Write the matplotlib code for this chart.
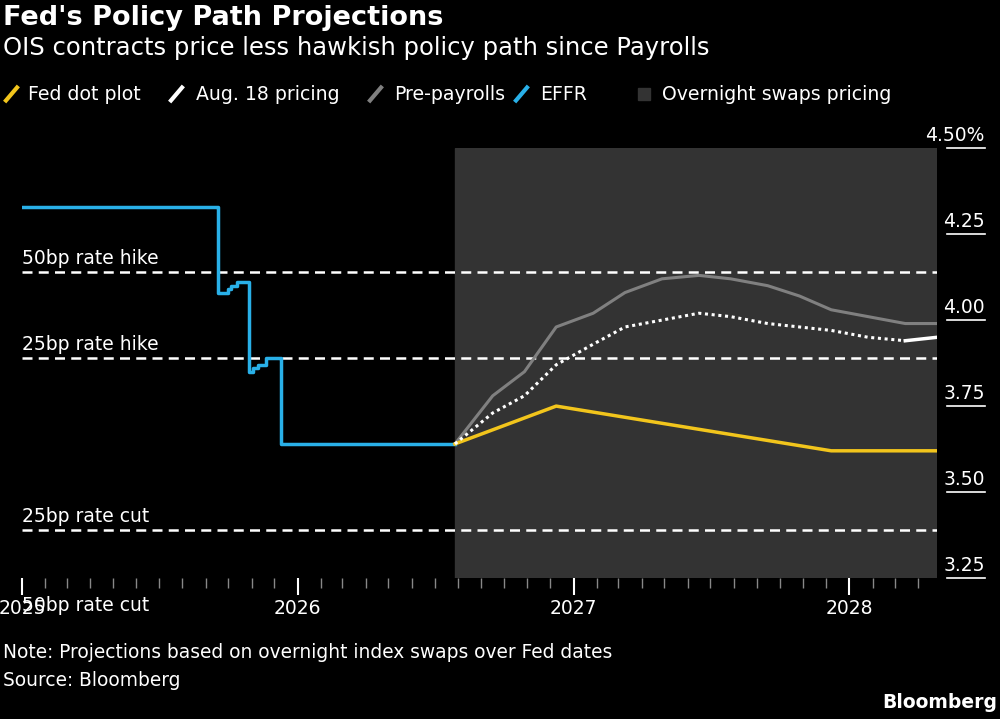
import matplotlib
matplotlib.use("Agg")
import matplotlib.pyplot as plt
import matplotlib.dates as mdates
import matplotlib.transforms as mtransforms
from matplotlib.lines import Line2D
from matplotlib.patches import Rectangle
import pandas as pd

effr_dates = ["2025-01-01", "2025-09-16", "2025-09-17", "2025-09-25", "2025-10-01", "2025-10-05",
              "2025-10-12", "2025-10-28", "2025-10-29", "2025-11-03", "2025-11-10", "2025-11-20",
              "2025-12-09", "2025-12-10", "2026-07-28"]
effr_vals = [4.33, 4.33, 4.08, 4.08, 4.09, 4.10, 4.11, 4.11, 3.85, 3.86, 3.87, 3.89, 3.89, 3.64, 3.64]

path_dates = ["2026-07-28", "2026-09-16", "2026-10-28", "2026-12-09", "2027-01-27", "2027-03-10",
              "2027-04-28", "2027-06-16", "2027-07-28", "2027-09-15", "2027-10-27", "2027-12-08",
              "2028-01-26", "2028-03-15", "2028-04-26"]
pre_payrolls = [3.64, 3.78, 3.85, 3.98, 4.02, 4.08, 4.12, 4.13, 4.12, 4.10, 4.07, 4.03, 4.01, 3.99, 3.99]
aug18 = [3.64, 3.73, 3.78, 3.87, 3.93, 3.98, 4.00, 4.02, 4.01, 3.99, 3.98, 3.97, 3.95, 3.94, 3.95]

dot_dates = ["2026-07-28", "2026-12-09", "2027-12-08", "2028-04-26"]
dot_vals = [3.64, 3.75, 3.62, 3.62]

ref_levels = [4.14, 3.89, 3.39, 3.14]
ref_labels = ["50bp rate hike", "25bp rate hike", "25bp rate cut", "50bp rate cut"]

yticks = [3.25, 3.50, 3.75, 4.00, 4.25, 4.50]
ytick_labels = ["3.25", "3.50", "3.75", "4.00", "4.25", "4.50%"]
shade_start, shade_end = "2026-07-28", "2028-04-26"

BG = "black"
fig = plt.figure(figsize=(10, 7.19), dpi=100, facecolor=BG)
ax = fig.add_axes([0.022, 0.196, 0.915, 0.598])
ax.set_facecolor(BG)
d = lambda s: pd.to_datetime(s)

ax.set_xlim(d("2025-01-01"), d(shade_end))
ax.set_ylim(3.25, 4.50)
ax.axvspan(d(shade_start), d(shade_end), color="#333333", zorder=0)

for lv, lb in zip(ref_levels, ref_labels):
    ax.axhline(lv, color="white", ls=(0, (4, 2.5)), lw=1.8, zorder=1)
    if lv < 3.25:
        ax.text(d("2025-01-01"), 3.17, lb, color="white", fontsize=13.5, va="center", ha="left", clip_on=False)
    else:
        ax.text(d("2025-01-01"), lv + 0.012, lb, color="white", fontsize=13.5, va="bottom", ha="left", clip_on=False)

ax.plot(pd.to_datetime(effr_dates), effr_vals, color="#29b0e8", lw=2.5, drawstyle="steps-post", zorder=3)
pdts = pd.to_datetime(path_dates)
ax.plot(pdts, pre_payrolls, color="#808080", lw=2.2, zorder=3)
ax.plot(pdts[:-1], aug18[:-1], color="white", lw=2.2, ls=(0, (1, 1.2)), zorder=4)
ax.plot(pdts[-2:], aug18[-2:], color="white", lw=2.5, zorder=4)
ax.plot(pd.to_datetime(dot_dates), dot_vals, color="#f2c51c", lw=2.5, zorder=3)

for s in ax.spines.values():
    s.set_visible(False)
ax.set_yticks([])
ax.xaxis.set_major_locator(mdates.YearLocator())
ax.xaxis.set_major_formatter(mdates.DateFormatter("%Y"))
ax.xaxis.set_minor_locator(mdates.MonthLocator())
ax.tick_params(axis="x", which="major", colors="white", length=12, width=1.5, pad=3, labelsize=13.5)
ax.tick_params(axis="x", which="minor", colors="#888888", length=7, width=1)

trans = mtransforms.blended_transform_factory(ax.transAxes, ax.transData)
for v, l in zip(yticks, ytick_labels):
    ax.plot([1.011, 1.052], [v, v], transform=trans, color="white", lw=1.2, clip_on=False)
    ax.text(1.052, v + 0.01, l, transform=trans, color="white", fontsize=13.5, ha="right", va="bottom")

fig.text(0.003, 0.975, "Fed's Policy Path Projections", color="white", fontsize=19.5, fontweight="bold", va="center")
fig.text(0.003, 0.933, "OIS contracts price less hawkish policy path since Payrolls", color="white", fontsize=17.5, va="center")

ly = 1 - 94 / 719
items = [(6, 28, "#f2c51c", "Fed dot plot"), (171, 196, "white", "Aug. 18 pricing"),
         (370, 394, "#808080", "Pre-payrolls"), (516, 540, "#29b0e8", "EFFR")]
for x0, xt, c, t in items:
    fig.add_artist(Line2D([x0 / 1000, (x0 + 11) / 1000], [ly - 0.009, ly + 0.009], color=c, lw=3))
    fig.text(xt / 1000, ly, t, color="white", fontsize=13.6, va="center")
fig.add_artist(Rectangle((638 / 1000, ly - 0.009), 0.012, 0.0167, color="#333333", transform=fig.transFigure))
fig.text(662 / 1000, ly, "Overnight swaps pricing", color="white", fontsize=13.6, va="center")

fig.text(0.003, 1 - 653 / 719, "Note: Projections based on overnight index swaps over Fed dates", color="white", fontsize=13.4, va="center")
fig.text(0.003, 1 - 680 / 719, "Source: Bloomberg", color="white", fontsize=13.4, va="center")
fig.text(0.997, 1 - 703 / 719, "Bloomberg", color="white", fontsize=13.5, fontweight="bold", va="center", ha="right")

fig.savefig("out.png", dpi=100, facecolor=BG)
